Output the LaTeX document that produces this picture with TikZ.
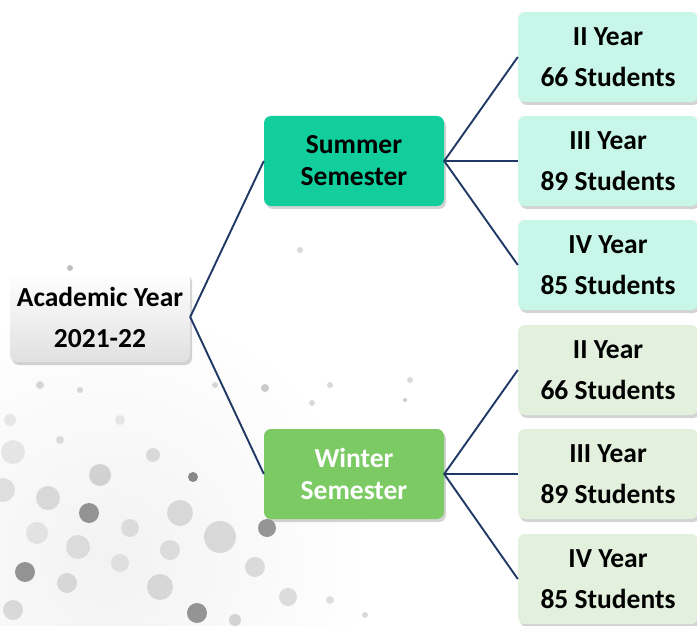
\documentclass[tikz,border=0pt]{standalone}
\usepackage{fontspec}
\setmainfont{Carlito}
\usetikzlibrary{shadows}
\definecolor{summerc}{HTML}{12CD9C}
\definecolor{winterc}{HTML}{7BCA64}
\definecolor{sumlight}{HTML}{C8F7E9}
\definecolor{winlight}{HTML}{E2F0DD}
\definecolor{linec}{HTML}{1F3864}
\tikzset{
  box/.style={rounded corners=7pt, minimum width=180pt, minimum height=90pt, align=center,
     font=\fontsize{27.5}{41}\selectfont\bfseries, inner sep=0pt,
     drop shadow={opacity=0.35, shadow xshift=2pt, shadow yshift=-3pt}},
  sembox/.style={box, font=\fontsize{27.5}{32}\selectfont\bfseries},
  link/.style={draw=linec, line width=1.9pt}
}
\begin{document}
\begin{tikzpicture}[x=1pt,y=-1pt]
\useasboundingbox (0,0) rectangle (697,626);
\begin{scope}
\clip (0,0) rectangle (697,626);
% soft haze behind dots
\shade[inner color=black!5, outer color=white] (110,560) circle (260);
\end{scope}
% background dots
\foreach \x/\y/\r/\o in {
 89/513/10/0.4, 25/572/10/0.4, 197/613/10/0.4, 193/477/5/0.45, 267/528/9/0.4,
 180/513/13/0.12, 220/537/16/0.12, 48/498/12/0.12, 100/475/11/0.15, 78/547/12/0.1,
 160/587/13/0.12, 13/610/10/0.12, 67/583/10/0.12, 130/528/9/0.1, 170/550/10/0.1,
 255/567/10/0.12, 288/597/9/0.12, 120/563/9/0.08, 37/533/11/0.08, 153/455/7/0.12,
 13/452/12/0.08, 3/490/12/0.1, 40/385/4/0.15, 80/390/3/0.15, 265/388/4/0.2, 330/385/3/0.15,
 410/380/3/0.15, 405/400/2/0.2, 360/510/3/0.2, 312/403/3/0.15, 215/385/3/0.15,
 70/268/3/0.25, 300/250/3/0.15, 235/620/6/0.15, 330/600/4/0.12, 365/615/3/0.15, 10/420/6/0.08,
 120/420/5/0.08, 60/440/4/0.12}
  {\fill[black, opacity=\o] (\x,\y) circle (\r);}
% nodes
\node[box, top color=white, bottom color=black!12] (ay) at (100,317) {Academic Year\\2021-22};
\node[sembox, fill=summerc] (sum) at (354,161) {Summer\\Semester};
\node[sembox, fill=winterc, text=white] (win) at (354,474) {Winter\\Semester};
\node[box, fill=sumlight] (s1) at (608,57) {II Year\\66 Students};
\node[box, fill=sumlight] (s2) at (608,161) {III Year\\89 Students};
\node[box, fill=sumlight] (s3) at (608,265) {IV Year\\85 Students};
\node[box, fill=winlight] (w1) at (608,370) {II Year\\66 Students};
\node[box, fill=winlight] (w2) at (608,474) {III Year\\89 Students};
\node[box, fill=winlight] (w3) at (608,579) {IV Year\\85 Students};
% links
\draw[link] (sum.west) -- (ay.east) -- (win.west);
\draw[link] (s1.west) -- (sum.east) -- (s3.west);
\draw[link] (sum.east) -- (s2.west);
\draw[link] (w1.west) -- (win.east) -- (w3.west);
\draw[link] (win.east) -- (w2.west);
\end{tikzpicture}
\end{document}
